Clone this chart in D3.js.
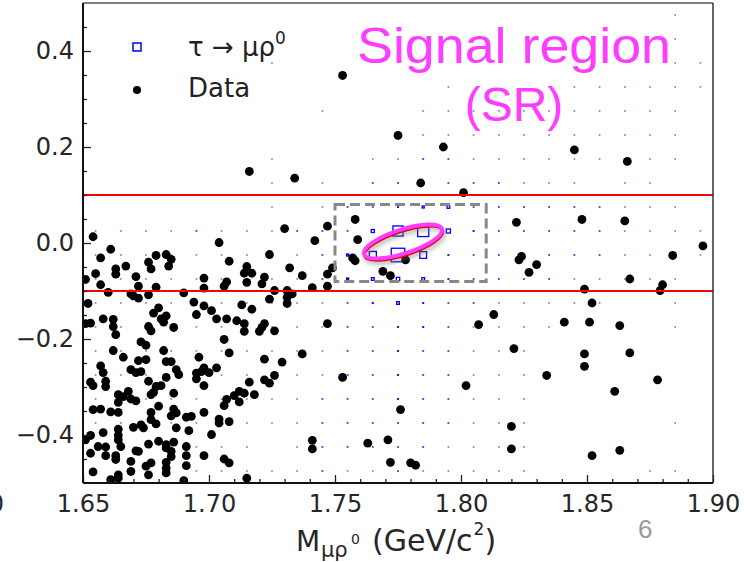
<!DOCTYPE html>
<html><head><meta charset="utf-8">
<script src="https://cdn.jsdelivr.net/npm/d3@7"></script>
<style>body{margin:0;background:#fff;} svg{display:block;}</style>
</head><body><svg id="c" width="744" height="562"></svg>
<script>
// ---------------- DATA ----------------
const xTickVals = [1.65, 1.70, 1.75, 1.80, 1.85, 1.90];
const xTickLabels = ["1.65", "1.70", "1.75", "1.80", "1.85", "1.90"];
const xMinorVals = [1.66,1.67,1.68,1.69,1.71,1.72,1.73,1.74,1.76,1.77,1.78,1.79,1.81,1.82,1.83,1.84,1.86,1.87,1.88,1.89];
const yTickVals = [-0.4, -0.2, 0.0, 0.2, 0.4];
const yTickLabels = ["\u22120.4", "\u22120.2", "0.0", "0.2", "0.4"];
const yMinorVals = [-0.45,-0.35,-0.3,-0.25,-0.15,-0.1,-0.05,0.05,0.1,0.15,0.25,0.3,0.35,0.45];

// signal region window and sideband cut lines
const srMass = [1.75, 1.81];
const srDeltaE = [-0.08, 0.08];
const cutLines = [0.1, -0.1];
const ellipseCenter = [1.777, 0.003];

// signal MC (tau -> mu rho0) 2D histogram, bin centres and contents
const sigMass = [1.655,1.665,1.675,1.685,1.695,1.705,1.715,1.725,1.735,1.745,1.755,1.765,1.775,1.785,1.795,1.805,1.815,1.825,1.835,1.845,1.855,1.865,1.875,1.885,1.895];
const sigDeltaE = [0.475,0.425,0.375,0.325,0.275,0.225,0.175,0.125,0.075,0.025,-0.025,-0.075,-0.125,-0.175,-0.225,-0.275,-0.325,-0.375,-0.425,-0.475];
const sigCounts = [
 [0,0,0,0,0,0,0,0,0,0,0,0,0,0,0,0,0,0,0,0,0,0,0,1,0],
 [0,0,0,0,0,0,0,0,0,0,0,0,0,0,0,0,0,0,0,0,0,0,0,1,0],
 [0,0,0,0,0,0,0,1,0,0,0,0,0,0,0,0,0,0,0,0,0,0,0,1,1],
 [0,0,0,0,0,0,0,0,0,0,0,0,0,0,1,0,0,0,0,1,1,1,1,1,1],
 [0,0,0,0,0,0,0,0,0,1,0,0,0,1,1,1,1,1,1,1,1,1,1,1,0],
 [0,0,0,0,0,0,0,0,0,0,0,0,1,1,1,1,1,1,1,1,1,1,1,1,0],
 [0,0,0,0,0,0,0,1,0,0,0,1,1,2,2,1,1,1,1,1,1,1,1,1,0],
 [0,0,0,0,0,0,0,1,0,1,0,2,2,2,2,2,2,1,1,1,0,1,1,0,0],
 [0,0,0,0,0,0,0,1,0,1,2,2,3,6,8,2,2,2,2,2,2,1,1,1,0],
 [1,1,1,1,2,1,1,1,2,2,2,9,30,33,12,3,2,2,2,2,2,1,1,1,1],
 [1,1,1,1,1,1,1,1,1,2,6,21,40,20,3,2,2,2,2,2,2,1,1,1,1],
 [1,1,1,1,1,1,1,1,1,2,6,8,10,8,3,2,2,2,2,1,1,1,1,1,0],
 [1,1,1,1,1,1,1,1,1,1,2,4,8,3,2,2,1,1,1,1,1,0,0,1,0],
 [1,1,0,1,1,1,1,1,1,1,2,2,3,3,2,1,1,1,1,0,0,0,0,1,0],
 [1,1,1,1,1,1,1,1,1,1,2,2,3,2,2,1,1,1,0,0,0,0,0,0,0],
 [1,1,1,0,1,1,1,1,1,1,2,2,3,2,2,1,1,1,0,0,0,0,0,0,0],
 [1,0,1,1,1,1,1,1,1,2,2,2,3,2,2,1,1,1,0,0,0,0,0,0,0],
 [1,1,0,1,1,1,1,1,1,2,2,2,2,2,2,1,1,1,0,0,0,0,0,1,0],
 [0,0,0,1,1,1,1,0,1,2,2,2,2,2,1,1,1,1,0,0,0,0,0,0,0],
 [0,0,0,0,1,1,1,1,1,2,1,1,2,1,1,1,1,1,0,0,0,0,1,1,0]
];

// data events: [M_mu rho0 (GeV/c^2), Delta E]
const dataEvents = [
 [1.654,0.013],[1.661,-0.013],[1.657,-0.031],[1.679,-0.026],[1.683,-0.024],[1.685,-0.034],[1.676,-0.040],[1.677,-0.054],
 [1.684,-0.048],[1.667,-0.048],[1.663,-0.054],[1.663,-0.065],[1.655,-0.064],[1.651,-0.076],[1.671,-0.070],[1.698,-0.073],
 [1.657,-0.087],[1.672,-0.090],[1.679,-0.092],[1.698,-0.094],[1.660,-0.103],[1.669,-0.106],[1.670,-0.110],[1.672,-0.115],
 [1.676,-0.108],[1.690,-0.104],[1.652,-0.126],[1.694,-0.123],[1.698,-0.131],[1.680,-0.135],[1.678,-0.146],[1.695,-0.149],
 [1.683,-0.152],[1.681,-0.158],[1.682,-0.165],[1.658,-0.158],[1.662,-0.159],[1.651,-0.168],[1.653,-0.167],[1.662,-0.174],
 [1.676,-0.174],[1.677,-0.183],[1.686,-0.176],[1.663,-0.191],[1.673,-0.206],[1.675,-0.213],[1.682,-0.224],[1.662,-0.224],
 [1.730,0.030],[1.747,0.035],[1.704,0.001],[1.742,0.005],[1.724,-0.024],[1.708,-0.038],[1.715,-0.049],[1.714,-0.063],
 [1.717,-0.063],[1.732,-0.052],[1.749,-0.052],[1.737,-0.068],[1.722,-0.071],[1.721,-0.085],[1.715,-0.082],[1.707,-0.081],
 [1.706,-0.090],[1.747,-0.065],[1.747,-0.090],[1.741,-0.093],[1.726,-0.099],[1.731,-0.099],[1.733,-0.106],[1.731,-0.113],
 [1.731,-0.126],[1.724,-0.117],[1.713,-0.129],[1.717,-0.138],[1.701,-0.141],[1.703,-0.158],[1.707,-0.158],[1.711,-0.162],
 [1.714,-0.168],[1.722,-0.168],[1.721,-0.176],[1.720,-0.184],[1.714,-0.184],[1.726,-0.183],[1.747,-0.168],[1.706,-0.201],
 [1.708,-0.229],[1.737,-0.231],[1.666,-0.238],[1.672,-0.245],[1.675,-0.243],[1.683,-0.247],[1.685,-0.247],[1.687,-0.264],
 [1.688,-0.274],[1.696,-0.238],[1.657,-0.256],[1.658,-0.270],[1.669,-0.264],[1.671,-0.270],[1.673,-0.268],[1.683,-0.280],
 [1.695,-0.271],[1.697,-0.268],[1.695,-0.283],[1.698,-0.297],[1.653,-0.290],[1.654,-0.297],[1.659,-0.288],[1.659,-0.299],
 [1.676,-0.288],[1.679,-0.299],[1.681,-0.297],[1.678,-0.311],[1.677,-0.316],[1.686,-0.313],[1.668,-0.309],[1.664,-0.316],
 [1.666,-0.320],[1.669,-0.325],[1.671,-0.329],[1.664,-0.332],[1.680,-0.340],[1.654,-0.347],[1.657,-0.346],[1.661,-0.352],
 [1.664,-0.353],[1.677,-0.353],[1.686,-0.346],[1.687,-0.354],[1.685,-0.360],[1.677,-0.368],[1.679,-0.377],[1.691,-0.363],
 [1.693,-0.361],[1.698,-0.353],[1.664,-0.388],[1.673,-0.379],[1.674,-0.385],[1.670,-0.384],[1.687,-0.385],[1.692,-0.391],
 [1.658,-0.395],[1.664,-0.401],[1.664,-0.410],[1.653,-0.401],[1.651,-0.410],[1.680,-0.413],[1.683,-0.420],[1.686,-0.415],
 [1.676,-0.419],[1.683,-0.427],[1.656,-0.424],[1.659,-0.425],[1.665,-0.424],[1.653,-0.438],[1.659,-0.443],[1.663,-0.443],
 [1.663,-0.451],[1.671,-0.433],[1.672,-0.434],[1.685,-0.434],[1.685,-0.445],[1.691,-0.424],[1.691,-0.443],[1.698,-0.443],
 [1.669,-0.455],[1.677,-0.458],[1.675,-0.465],[1.683,-0.457],[1.683,-0.469],[1.691,-0.464],[1.654,-0.477],[1.669,-0.476],
 [1.676,-0.483],[1.664,-0.483],[1.664,-0.490],[1.661,-0.493],[1.683,-0.479],[1.690,-0.495],[1.722,-0.242],[1.729,-0.248],
 [1.698,-0.260],[1.700,-0.270],[1.703,-0.260],[1.716,-0.290],[1.722,-0.285],[1.724,-0.292],[1.726,-0.276],[1.712,-0.309],
 [1.714,-0.313],[1.710,-0.318],[1.718,-0.316],[1.707,-0.326],[1.706,-0.339],[1.712,-0.331],[1.704,-0.367],[1.704,-0.375],
 [1.708,-0.372],[1.701,-0.399],[1.741,-0.411],[1.741,-0.429],[1.706,-0.450],[1.708,-0.458],[1.715,-0.490],[1.784,0.125],
 [1.801,0.105],[1.758,0.049],[1.759,0.007],[1.757,-0.031],[1.758,-0.037],[1.769,-0.059],[1.772,-0.068],[1.778,-0.035],
 [1.822,0.043],[1.823,-0.035],[1.824,-0.028],[1.827,-0.061],[1.830,-0.045],[1.813,-0.149],[1.753,0.349],[1.716,0.149],
 [1.734,0.135],[1.775,0.224],[1.793,0.200],[1.845,0.194],[1.866,0.170],[1.807,-0.170],[1.821,-0.220],[1.753,-0.280],
 [1.802,-0.297],[1.776,-0.347],[1.820,-0.382],[1.820,-0.429],[1.763,-0.417],[1.771,-0.410],[1.772,-0.457],[1.780,-0.458],
 [1.782,-0.463],[1.848,0.049],[1.865,0.046],[1.896,-0.006],[1.884,-0.026],[1.867,-0.075],[1.880,-0.087],[1.879,-0.099],
 [1.849,-0.096],[1.852,-0.125],[1.841,-0.165],[1.851,-0.165],[1.863,-0.172],[1.849,-0.231],[1.867,-0.229],[1.849,-0.257],
 [1.834,-0.276],[1.878,-0.285],[1.861,-0.309],[1.852,-0.443],[1.863,-0.432]
];

// ---------------- DRAW ----------------
const W = 744, H = 562;
const L = 83, R = 713, T = 3, B = 483;
const svg = d3.select('#c');
const x = d3.scaleLinear().domain([1.65, 1.90]).range([L, R]);
const y = d3.scaleLinear().domain([-0.5, 0.5]).range([B, T]);
const tickFont = "'DejaVu Sans', sans-serif";

svg.append('rect').attr('width', W).attr('height', H).attr('fill', '#fff');
const defs = svg.append('defs');
defs.append('clipPath').attr('id', 'clip').append('rect')
  .attr('x', L).attr('y', T).attr('width', R - L).attr('height', B - T);
defs.append('filter').attr('id', 'blur').append('feGaussianBlur').attr('stdDeviation', 2);

const plot = svg.append('g').attr('clip-path', 'url(#clip)');

// signal MC boxes
const cells = [];
sigCounts.forEach((row, ri) => row.forEach((v, ci) => { if (v > 0) cells.push({m: sigMass[ci], de: sigDeltaE[ri], v}); }));
const vmax = d3.max(cells, d => d.v);
const side = d3.scaleLinear().domain([0, vmax]).range([0, 13.5]);
plot.selectAll('rect.sig').data(cells).join('rect').attr('class', 'sig')
  .each(function(d) {
    const s = side(d.v), cx = x(d.m), cy = y(d.de), el = d3.select(this);
    if (s < 1.5) {
      const a = 1.5 + 0.5 * s;
      el.attr('x', cx - a / 2).attr('y', cy - a / 2).attr('width', a).attr('height', a)
        .attr('fill', '#1a1aff').attr('opacity', Math.min(1, 0.35 + 0.7 * s));
    } else {
      el.attr('x', cx - s / 2).attr('y', cy - s / 2).attr('width', s).attr('height', s)
        .attr('fill', 'none').attr('stroke', '#0000ff').attr('stroke-width', 1.3);
    }
  });

// data points
plot.selectAll('circle.data').data(dataEvents).join('circle').attr('class', 'data')
  .attr('cx', d => x(d[0])).attr('cy', d => y(d[1])).attr('r', 4.4).attr('fill', '#000');

// red cut lines
plot.selectAll('line.cut').data(cutLines).join('line').attr('class', 'cut')
  .attr('x1', L).attr('x2', R).attr('y1', d => y(d)).attr('y2', d => y(d))
  .attr('stroke', '#ff0000').attr('stroke-width', 2);

// dashed signal-region box
plot.append('rect')
  .attr('x', x(srMass[0])).attr('y', y(srDeltaE[1]))
  .attr('width', x(srMass[1]) - x(srMass[0])).attr('height', y(srDeltaE[0]) - y(srDeltaE[1]))
  .attr('fill', 'none').attr('stroke', '#888').attr('stroke-width', 3).attr('stroke-dasharray', '10,5');

// ellipse annotation
const ecx = x(ellipseCenter[0]), ecy = y(ellipseCenter[1]);
const eg = svg.append('g');
eg.append('ellipse').attr('cx', 0).attr('cy', 0).attr('rx', 41).attr('ry', 12)
  .attr('transform', `translate(${ecx + 2},${ecy + 4}) rotate(-18)`)
  .attr('fill', 'none').attr('stroke', '#777').attr('stroke-width', 4).attr('opacity', 0.55).attr('filter', 'url(#blur)');
eg.append('ellipse').attr('cx', 0).attr('cy', 0).attr('rx', 41).attr('ry', 12)
  .attr('transform', `translate(${ecx + 0.6},${ecy + 1.6}) rotate(-18)`)
  .attr('fill', 'none').attr('stroke', '#e00000').attr('stroke-width', 3);
eg.append('ellipse').attr('cx', 0).attr('cy', 0).attr('rx', 41).attr('ry', 12)
  .attr('transform', `translate(${ecx},${ecy}) rotate(-18)`)
  .attr('fill', 'none').attr('stroke', '#ff3cff').attr('stroke-width', 4);

// axes
function styleAxis(g) {
  g.select('.domain').remove();
  g.selectAll('.tick line').attr('stroke', '#222').attr('stroke-width', 1.3);
  g.selectAll('.tick text').attr('font-family', tickFont).attr('font-size', 24).attr('fill', '#262626');
}
svg.append('g').attr('transform', `translate(0,${B})`)
  .call(d3.axisBottom(x).tickValues(xTickVals).tickFormat((d, i) => xTickLabels[i])
    .tickSizeInner(-8).tickSizeOuter(0).tickPadding(12)).call(styleAxis);
svg.append('g').attr('transform', `translate(0,${B})`)
  .call(d3.axisBottom(x).tickValues(xMinorVals).tickFormat('').tickSizeInner(-4).tickSizeOuter(0)).call(styleAxis);
svg.append('g').attr('transform', `translate(${L},0)`)
  .call(d3.axisLeft(y).tickValues(yTickVals).tickFormat((d, i) => yTickLabels[i])
    .tickSizeInner(-8).tickSizeOuter(0).tickPadding(9)).call(styleAxis);
svg.append('g').attr('transform', `translate(${L},0)`)
  .call(d3.axisLeft(y).tickValues(yMinorVals).tickFormat('').tickSizeInner(-4).tickSizeOuter(0)).call(styleAxis);

// frame
svg.append('line').attr('x1', L).attr('x2', R).attr('y1', T).attr('y2', T).attr('stroke', '#555').attr('stroke-width', 1.5);
svg.append('line').attr('x1', R).attr('x2', R).attr('y1', T).attr('y2', B).attr('stroke', '#333').attr('stroke-width', 1.5);
svg.append('line').attr('x1', L).attr('x2', R).attr('y1', B).attr('y2', B).attr('stroke', '#111').attr('stroke-width', 2);
svg.append('line').attr('x1', L).attr('x2', L).attr('y1', T).attr('y2', B).attr('stroke', '#111').attr('stroke-width', 2);

// legend
svg.append('rect').attr('x', 133).attr('y', 43).attr('width', 8).attr('height', 8)
  .attr('fill', 'none').attr('stroke', '#0000ff').attr('stroke-width', 1.5);
const lt = svg.append('text').attr('x', 188).attr('y', 56).attr('font-family', tickFont).attr('font-size', 26).attr('fill', '#222');
lt.append('tspan').text('\u03c4 \u2192 \u03bc\u03c1');
lt.append('tspan').attr('font-size', 17).attr('dy', -12).text('0');
svg.append('circle').attr('cx', 137).attr('cy', 90).attr('r', 4).attr('fill', '#000');
svg.append('text').attr('x', 188).attr('y', 97).attr('font-family', tickFont).attr('font-size', 26).attr('fill', '#222').text('Data');

// signal region label
svg.append('text').attr('x', 357).attr('y', 63).attr('font-family', "'Liberation Sans', Arial, sans-serif")
  .attr('font-size', 50).attr('fill', '#ff3cff').attr('textLength', 314).attr('lengthAdjust', 'spacingAndGlyphs').text('Signal region');
svg.append('text').attr('x', 514).attr('y', 121).attr('text-anchor', 'middle').attr('font-family', "'Liberation Sans', Arial, sans-serif")
  .attr('font-size', 48).attr('fill', '#ff3cff').text('(SR)');

// x axis title
const xt = svg.append('g').attr('font-family', tickFont).attr('fill', '#262626');
xt.append('text').attr('x', 296).attr('y', 551).attr('font-size', 28).text('M');
xt.append('text').attr('x', 321).attr('y', 557).attr('font-size', 21).text('\u03bc\u03c1');
xt.append('text').attr('x', 351).attr('y', 544).attr('font-size', 14).text('0');
const gev = xt.append('text').attr('x', 372).attr('y', 551).attr('font-size', 30).text('(GeV/c');
const gevEnd = 372 + gev.node().getComputedTextLength();
xt.append('text').attr('x', gevEnd + 1).attr('y', 535).attr('font-size', 17).text('2');
xt.append('text').attr('x', gevEnd + 12).attr('y', 551).attr('font-size', 30).text(')');

// stray labels
svg.append('text').attr('x', 4).attr('y', 512).attr('text-anchor', 'end').attr('font-family', tickFont).attr('font-size', 24).attr('fill', '#262626').text('0');
svg.append('text').attr('x', 638).attr('y', 538).attr('font-family', "'Liberation Sans', Arial, sans-serif").attr('font-size', 26).attr('fill', '#9a9a9a').text('6');
</script>
</body></html>
